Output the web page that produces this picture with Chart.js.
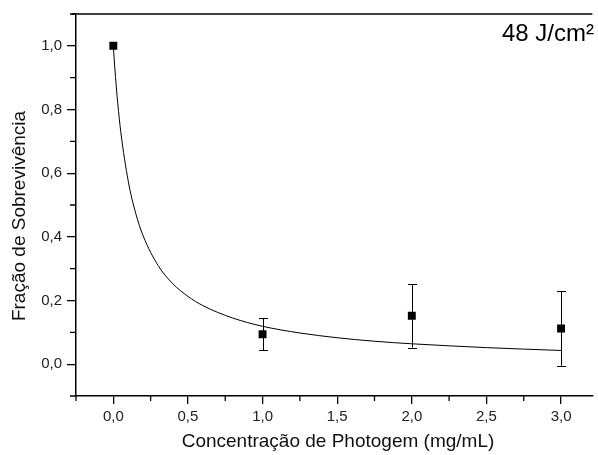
<!DOCTYPE html>
<html lang="pt">
<head>
<meta charset="UTF-8">
<title>Fração de Sobrevivência - 48 J/cm²</title>
<script src="https://cdn.jsdelivr.net/npm/chart.js"></script>
<style>
  html, body { margin: 0; padding: 0; background: #fff; overflow: hidden; }
  #wrap { width: 598px; height: 455px; }
</style>
</head>
<body>
<div id="wrap"><canvas id="survivalChart"></canvas></div>

<script>
// measured points (mean +/- error)
const concentration = [0, 1, 2, 3];
const survival = [1.0, 0.094, 0.152, 0.112];
const survivalErr = [0, 0.051, 0.100, 0.117];

// fitted curve
const fitX = [0, 0.01, 0.02, 0.03, 0.05, 0.1, 0.15, 0.2, 0.3, 0.4, 0.5, 0.6, 0.8, 1.0, 1.25, 1.5, 1.75, 2.0, 2.5, 3.0];
const fitY = [1.0, 0.931, 0.871, 0.818, 0.730, 0.575, 0.474, 0.403, 0.310, 0.252, 0.213, 0.184, 0.145, 0.119, 0.098, 0.083, 0.072, 0.064, 0.052, 0.043];

// tick labels
const xMajorTicks = [0, 0.5, 1.0, 1.5, 2.0, 2.5, 3.0];
const xMinorTicks = [-0.25, 0.25, 0.75, 1.25, 1.75, 2.25, 2.75];
const yMajorTicks = [0, 0.2, 0.4, 0.6, 0.8, 1.0];
const yMinorTicks = [-0.1, 0.1, 0.3, 0.5, 0.7, 0.9, 1.1];

const FONT = "Arial, 'Liberation Sans', sans-serif";
const fmt = v => v.toFixed(1).replace('.', ',');

// extra drawing: frame top line, minor ticks, error bars, titles
const decorations = {
    id: 'decorations',
    beforeDatasetsDraw(chart) {
        const ctx = chart.ctx;
        const xs = chart.scales.x, ys = chart.scales.y;
        ctx.save();
        ctx.strokeStyle = '#000';
        ctx.lineWidth = 1;
        concentration.forEach((c, i) => {
            const e = survivalErr[i];
            if (!e) return;
            const px = Math.round(xs.getPixelForValue(c)) + 0.5;
            const top = ys.getPixelForValue(survival[i] + e);
            const bot = ys.getPixelForValue(survival[i] - e);
            ctx.beginPath();
            ctx.moveTo(px, top); ctx.lineTo(px, bot);
            ctx.moveTo(px - 4.5, Math.round(top) + 0.5); ctx.lineTo(px + 4.5, Math.round(top) + 0.5);
            ctx.moveTo(px - 4.5, Math.round(bot) + 0.5); ctx.lineTo(px + 4.5, Math.round(bot) + 0.5);
            ctx.stroke();
        });
        ctx.restore();
    },
    afterDraw(chart) {
        const ctx = chart.ctx;
        const a = chart.chartArea;
        const xs = chart.scales.x, ys = chart.scales.y;
        ctx.save();
        ctx.strokeStyle = '#000';
        ctx.lineWidth = 1.5;
        ctx.beginPath();
        ctx.moveTo(a.left - 4, a.top);
        ctx.lineTo(a.right, a.top);
        ctx.stroke();

        ctx.lineWidth = 1.3;
        ctx.beginPath();
        xMinorTicks.forEach(v => {
            const px = xs.getPixelForValue(v);
            ctx.moveTo(px, a.bottom); ctx.lineTo(px, a.bottom + 5);
        });
        yMinorTicks.forEach(v => {
            const py = ys.getPixelForValue(v);
            ctx.moveTo(a.left, py); ctx.lineTo(a.left - 6, py);
        });
        ctx.stroke();

        ctx.fillStyle = '#111';
        ctx.font = '19px ' + FONT;
        ctx.textAlign = 'center';
        ctx.textBaseline = 'middle';
        ctx.fillText('Concentração de Photogem (mg/mL)', 338, 442);

        ctx.save();
        ctx.translate(20, 216);
        ctx.rotate(-Math.PI / 2);
        ctx.fillText('Fração de Sobrevivência', 0, 0);
        ctx.restore();

        ctx.fillStyle = '#000';
        ctx.font = '24px ' + FONT;
        ctx.textAlign = 'right';
        ctx.fillText('48 J/cm²', 594, 34);
        ctx.restore();
    }
};

const ctx = document.getElementById('survivalChart').getContext('2d');
const chart = new Chart(ctx, {
    type: 'scatter',
    data: {
        datasets: [{
            label: 'Pontos',
            data: concentration.map((c, i) => ({ x: c, y: survival[i] })),
            pointStyle: 'rect',
            pointRadius: 5.6,
            backgroundColor: '#000',
            borderColor: '#000',
            borderWidth: 0,
            order: 0
        }, {
            label: 'Ajuste',
            data: fitX.map((x, i) => ({ x: x, y: fitY[i] })),
            showLine: true,
            pointRadius: 0,
            borderColor: '#000',
            borderWidth: 1,
            cubicInterpolationMode: 'monotone',
            order: 1
        }]
    },
    options: {
        responsive: true,
        maintainAspectRatio: false,
        animation: false,
        layout: { padding: { left: 0, top: 13, right: 0, bottom: 0 } },
        plugins: {
            legend: { display: false },
            tooltip: { enabled: false }
        },
        scales: {
            x: {
                type: 'linear',
                min: -0.25,
                max: 3.21,
                afterBuildTicks: s => { s.ticks = xMajorTicks.map(v => ({ value: v })); },
                afterFit: s => { s.height = 59; },
                border: { color: '#000', width: 1.5 },
                grid: { drawOnChartArea: false, drawTicks: true, tickLength: 8, color: '#000', lineWidth: 1.3 },
                ticks: {
                    color: '#222',
                    font: { family: FONT, size: 15 },
                    padding: 4,
                    maxRotation: 0,
                    autoSkip: false,
                    callback: v => fmt(v)
                }
            },
            y: {
                type: 'linear',
                min: -0.1,
                max: 1.1,
                afterBuildTicks: s => { s.ticks = yMajorTicks.map(v => ({ value: v })); },
                afterFit: s => { s.width = 76; },
                border: { color: '#000', width: 1.5 },
                grid: { drawOnChartArea: false, drawTicks: true, tickLength: 9, color: '#000', lineWidth: 1.3 },
                ticks: {
                    color: '#222',
                    font: { family: FONT, size: 15 },
                    padding: 5,
                    autoSkip: false,
                    callback: v => fmt(v)
                }
            }
        }
    },
    plugins: [decorations]
});
</script>
</body>
</html>
